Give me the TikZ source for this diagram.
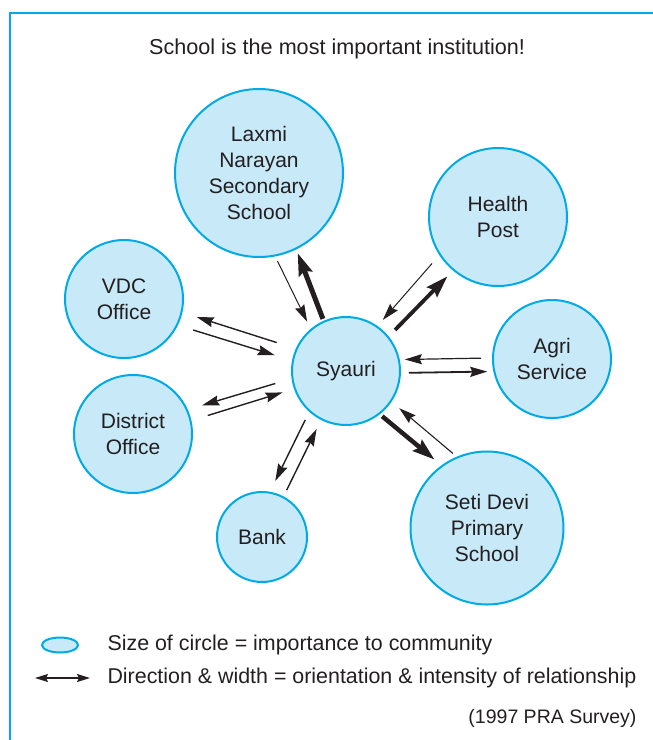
\documentclass[tikz,border=0pt]{standalone}
\usepackage{fontspec}
\setmainfont{Liberation Sans}
\usetikzlibrary{arrows.meta,shapes.geometric}

\definecolor{rim}{RGB}{0,170,230}
\definecolor{pale}{RGB}{200,233,248}
\definecolor{ink}{RGB}{35,31,32}

\begin{document}
\begin{tikzpicture}[x=1pt,y=-1pt,
    place/.style={circle,draw=rim,fill=pale,line width=2pt,inner sep=0pt,
        align=center,text=ink,font=\fontsize{21}{26}\selectfont},
    thin/.style={draw=ink,line width=1pt,-{Stealth[length=17pt,width=10pt,inset=2pt]}},
    mid/.style={draw=ink,line width=1.4pt,-{Stealth[length=17pt,width=10pt,inset=2pt]}},
    bold/.style={draw=ink,line width=4.5pt,-{Stealth[length=22pt,width=14pt,inset=3pt]}}]
    \useasboundingbox (0,0) rectangle (653,740);
    \draw[rim,line width=2.5pt] (10,740) -- (10,13) -- (653,13);
    \node[text=ink,font=\fontsize{21.6}{26}\selectfont] (title) at (337,49) {School is the most important institution!};

    \node[place,minimum size=108pt] (S) at (346,371) {Syauri};
    \node[place,minimum size=168pt] (L) at (259,173) {Laxmi\\Narayan\\Secondary\\School};
    \node[place,minimum size=138pt] (H) at (498,217) {Health\\Post};
    \node[place,minimum size=118pt] (A) at (552,359) {Agri\\Service};
    \node[place,minimum size=153pt] (P) at (487,528) {Seti Devi\\Primary\\School};
    \node[place,minimum size=90pt] (B) at (262,537) {Bank};
    \node[place,minimum size=118pt] (D) at (133,434) {District\\Office};
    \node[place,minimum size=118pt] (V) at (124,299) {VDC\\Office};

    \draw[thin,shorten <=5pt,shorten >=8pt] (L.-79) -- (S.130);
    \draw[bold,line width=5pt,shorten <=2pt,shorten >=4pt] (S.114) -- (L.-64);
    \draw[thin,shorten <=11pt,shorten >=8pt] (H.213) -- (S.55);
    \draw[bold,line width=3.8pt,shorten <=9pt,shorten >=8pt] (S.39) -- (H.230);
    \draw[thin,line width=1.2pt,shorten <=11pt,shorten >=5pt] (A.179) -- (S.12);
    \draw[mid,line width=1.8pt,shorten <=8pt,shorten >=6pt] (S.-2) -- (A.192);
    \draw[bold,shorten <=3pt,shorten >=9pt] (S.-52) -- (P.126);
    \draw[thin,line width=1.1pt,shorten <=5pt,shorten >=10pt] (P.113) -- (S.-34);
    \draw[mid,shorten <=20pt,shorten >=15pt] (S.156) -- (V.-13);
    \draw[mid,shorten <=16pt,shorten >=18pt] (V.-26) -- (S.169);
    \draw[mid,shorten <=17pt,shorten >=15pt] (S.188) -- (D.24);
    \draw[mid,shorten <=17pt,shorten >=12pt] (D.13) -- (S.199);
    \draw[mid,shorten <=9pt,shorten >=12pt] (S.228) -- (B.80);
    \draw[mid,shorten <=7pt,shorten >=10pt] (B.62) -- (S.243);

    % key
    \node[ellipse,draw=rim,fill=pale,line width=2pt,minimum width=36pt,minimum height=15pt] (key) at (60,645) {};
    \node[anchor=west,text=ink,font=\fontsize{21.4}{25}\selectfont] (keyA) at (104,645) {Size of circle = importance to community};
    \coordinate (kl) at (35,678);
    \coordinate (kr) at (90,678);
    \draw[draw=ink,line width=1.5pt,{Stealth[length=13pt,width=8pt,inset=2pt]}-{Stealth[length=13pt,width=8pt,inset=2pt]}] (kl) -- (kr);
    \node[anchor=west,text=ink,font=\fontsize{21.4}{25}\selectfont] (keyB) at (104,678) {Direction \& width = orientation \& intensity of relationship};
    \node[anchor=east,text=ink,font=\fontsize{19.5}{22}\selectfont] (src) at (640,718) {(1997 PRA Survey)};
\end{tikzpicture}
\end{document}
